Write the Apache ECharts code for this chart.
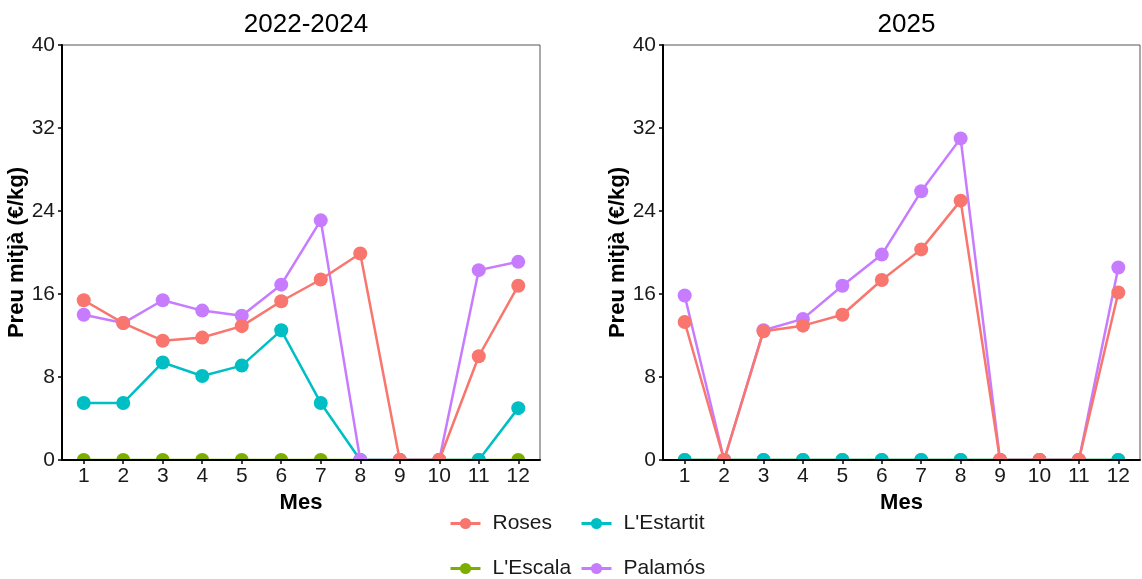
<!DOCTYPE html>
<html><head><meta charset="utf-8">
<script src="https://cdn.jsdelivr.net/npm/echarts@6/dist/echarts.min.js"></script>
<style>html,body{margin:0;padding:0;background:#fff}#c{width:1142px;height:579px}</style>
</head><body><div id="c"></div>
<script>
// ---- data ----
const months = [1,2,3,4,5,6,7,8,9,10,11,12];
const yTicks = [0,8,16,24,32,40];
const panelTitles = ['2022-2024','2025'];
const ports = ['Roses','L\'Escala','L\'Estartit','Palamós'];

const roses2224    = [15.4, 13.2, 11.5, 11.8, 12.9, 15.3, 17.4, 19.9, 0, 0, 10.0, 16.8];
const escala2224   = [0, 0, 0, 0, 0, 0, 0, 0, 0, 0, 0, 0];
const estartit2224 = [5.5, 5.5, 9.4, 8.1, 9.1, 12.5, 5.5, 0, 0, 0, 0, 5.0];
const palamos2224  = [14.0, 13.2, 15.4, 14.4, 13.9, 16.9, 23.1, 0, 0, 0, 18.3, 19.1];

const roses2025    = [13.3, 0, 12.4, 12.95, 14.0, 17.35, 20.3, 25.0, 0, 0, 0, 16.15];
const escala2025   = [0, 0, 0, 0, 0, 0, 0, 0, 0, 0, 0, 0];
const estartit2025 = [0, 0, 0, 0, 0, 0, 0, 0, 0, 0, 0, 0];
const palamos2025  = [15.85, 0, 12.5, 13.6, 16.8, 19.8, 25.9, 31.0, 0, 0, 0, 18.55];

// ---- styles ----
const portColors = {'Roses':'#F8766D','L\'Escala':'#7CAE00','L\'Estartit':'#00BFC4','Palamós':'#C77CFF'};
const portZ = {'Roses':5,'L\'Escala':2,'L\'Estartit':3,'Palamós':4};
const legendPos = {'Roses':[449,513],'L\'Escala':[449,558],'L\'Estartit':[580,513],'Palamós':[580,558]};
const FONT = 'Liberation Sans, Arial, sans-serif';

const panelData = [
  {'Roses':roses2224,'L\'Escala':escala2224,'L\'Estartit':estartit2224,'Palamós':palamos2224},
  {'Roses':roses2025,'L\'Escala':escala2025,'L\'Estartit':estartit2025,'Palamós':palamos2025}
];

const grids = [
  {left:62, top:45, width:478, bottom:119},
  {left:663, top:45, width:477, bottom:119}
];

const xAxes = grids.map((g,i)=>({
  type:'value', gridIndex:i, min:0.45, max:12.55, z:10,
  name:'Mes', nameLocation:'middle', nameGap:29,
  nameTextStyle:{fontFamily:FONT, fontSize:22, fontWeight:'bold', color:'#000'},
  axisLine:{show:true, onZero:false, lineStyle:{color:'#000', width:2}},
  axisTick:{show:true, length:4, customValues:months, lineStyle:{color:'#000', width:1.5}},
  axisLabel:{customValues:months, margin:6, fontFamily:FONT, fontSize:21, color:'#1a1a1a'},
  splitLine:{show:false}
}));
const yAxes = grids.map((g,i)=>({
  type:'value', gridIndex:i, min:yTicks[0], max:yTicks[yTicks.length-1], interval:yTicks[1]-yTicks[0], z:10,
  name:'Preu mitjà (€/kg)', nameLocation:'middle', nameGap:34,
  nameTextStyle:{fontFamily:FONT, fontSize:22, fontWeight:'bold', color:'#000'},
  axisLine:{show:true, lineStyle:{color:'#000', width:2}},
  axisTick:{show:true, length:4, lineStyle:{color:'#000', width:1.5}},
  axisLabel:{margin:7, fontFamily:FONT, fontSize:21, color:'#1a1a1a'},
  splitLine:{show:false}
}));

const series = [];
panelData.forEach((pd,i)=>{
  ports.forEach(p=>{
    series.push({
      name:p, type:'line', xAxisIndex:i, yAxisIndex:i, z:portZ[p],
      data: months.map((m,k)=>[m, pd[p][k]]),
      symbol:'circle', symbolSize:14, showSymbol:true,
      lineStyle:{width:2.5, color:portColors[p]},
      itemStyle:{color:portColors[p]},
      emphasis:{disabled:true}, animation:false, clip:false
    });
  });
});

const legends = ports.map(p=>({
  left:legendPos[p][0], top:legendPos[p][1], orient:'horizontal',
  itemWidth:30, itemHeight:14, padding:0,
  lineStyle:{width:3},
  textStyle:{fontFamily:FONT, fontSize:21, color:'#1a1a1a', padding:[0,0,0,7]},
  selectedMode:false, data:[p]
}));

const option = {
  backgroundColor:'#fff',
  animation:false,
  title: panelTitles.map((t,i)=>({
    text:t, left: grids[i].left + grids[i].width/2, top:7, textAlign:'center',
    textStyle:{fontFamily:FONT, fontSize:26, fontWeight:'normal', color:'#000'}
  })),
  grid: grids.map(g=>Object.assign({show:true, borderColor:'#555', borderWidth:1, backgroundColor:'transparent', containLabel:false}, g)),
  xAxis: xAxes,
  yAxis: yAxes,
  legend: legends,
  graphic: grids.map(g=>({
    type:'rect', z:8, silent:true,
    shape:{x:g.left-12, y:461, width:g.width+12, height:16},
    style:{fill:'#fff'}
  })),
  series: series
};

const chart = echarts.init(document.getElementById('c'), null, {renderer:'canvas'});
chart.setOption(option);
</script>
</body></html>
